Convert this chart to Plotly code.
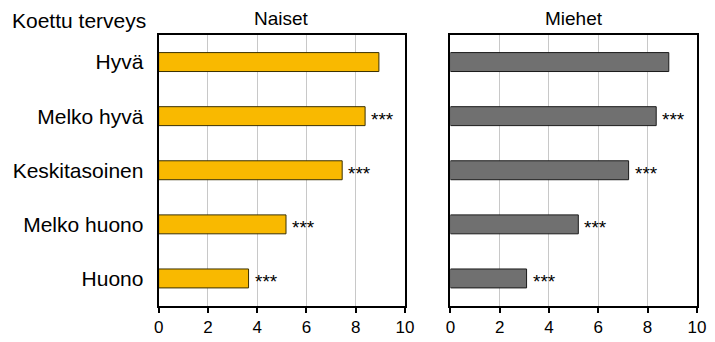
import plotly.graph_objects as go

categories = ["Hyvä", "Melko hyvä", "Keskitasoinen", "Melko huono", "Huono"]
naiset = [8.94, 8.38, 7.45, 5.17, 3.65]
miehet = [8.86, 8.35, 7.23, 5.19, 3.09]
sig_naiset = ["", "***", "***", "***", "***"]
sig_miehet = ["", "***", "***", "***", "***"]
panel_titles = ["Naiset", "Miehet"]
y_title = "Koettu terveys"
x_ticks = [0, 2, 4, 6, 8, 10]

W, H = 715, 342
FONT = "Liberation Sans, Arial, sans-serif"

fig = go.Figure()
fig.add_trace(go.Bar(
    y=categories, x=naiset, orientation="h", xaxis="x", yaxis="y",
    marker=dict(color="#F9B900", line=dict(color="#3a3000", width=1)),
    width=0.35, showlegend=False, hoverinfo="skip"))
fig.add_trace(go.Bar(
    y=categories, x=miehet, orientation="h", xaxis="x2", yaxis="y2",
    marker=dict(color="#707070", line=dict(color="#1a1a1a", width=1)),
    width=0.35, showlegend=False, hoverinfo="skip"))

annotations = []
for xa, ya, vals, sigs in [("x", "y", naiset, sig_naiset), ("x2", "y2", miehet, sig_miehet)]:
    for c, v, s in zip(categories, vals, sigs):
        if s:
            annotations.append(dict(
                x=v, y=c, xref=xa, yref=ya, text=s, showarrow=False,
                xanchor="left", yanchor="middle", xshift=4, yshift=-3,
                font=dict(size=19, color="black", family=FONT)))

doms = [[156.7 / W, 408 / W], [454.3 / W, 705.7 / W]]
ydom = [1 - 305.5 / H, 1 - 35 / H]
for i, t in enumerate(panel_titles):
    annotations.append(dict(
        x=(doms[i][0] + doms[i][1]) / 2, y=1 - 18.5 / H, xref="paper", yref="paper",
        text=t, showarrow=False, xanchor="center", yanchor="middle",
        font=dict(size=19, color="black", family=FONT)))
annotations.append(dict(
    x=5 / W, y=1 - 20 / H, xref="paper", yref="paper", text=y_title,
    showarrow=False, xanchor="left", yanchor="middle",
    font=dict(size=21, color="black", family=FONT)))

xcommon = dict(range=[0, 10], tickvals=x_ticks, showgrid=True, gridcolor="#c8c8c8",
               gridwidth=1, showline=True, linecolor="black", linewidth=2, mirror=True,
               ticks="outside", ticklen=5, tickcolor="black", tickwidth=1.5,
               tickfont=dict(size=17, color="black", family=FONT), zeroline=False,
               fixedrange=True)
ycommon = dict(categoryorder="array", categoryarray=categories, autorange="reversed",
               showline=True, linecolor="black", linewidth=2, mirror=True,
               showgrid=False, domain=ydom, ticks="", fixedrange=True)

fig.update_layout(
    width=W, height=H, margin=dict(l=0, r=0, t=0, b=0),
    paper_bgcolor="white", plot_bgcolor="white", bargap=0.65,
    font=dict(family=FONT, color="black"),
    xaxis=dict(domain=doms[0], anchor="y", **xcommon),
    xaxis2=dict(domain=doms[1], anchor="y2", **xcommon),
    yaxis=dict(anchor="x", showticklabels=True, ticklabelstandoff=9,
               tickfont=dict(size=21, color="black", family=FONT), **ycommon),
    yaxis2=dict(anchor="x2", showticklabels=False, **ycommon),
    annotations=annotations,
)

fig.write_html("out.html")
